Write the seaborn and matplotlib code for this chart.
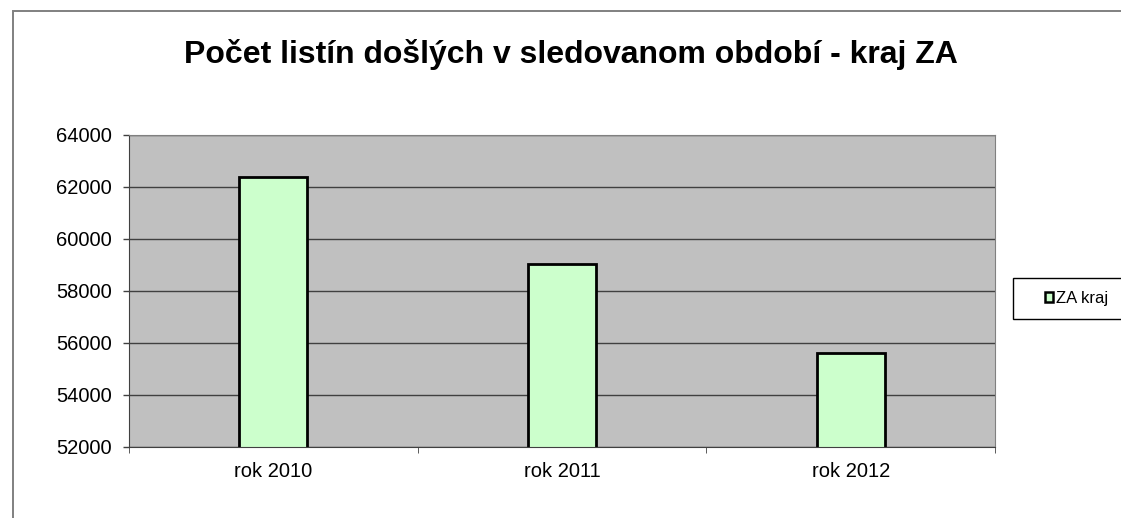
import matplotlib
matplotlib.use("Agg")
import matplotlib.pyplot as plt
from matplotlib.patches import Rectangle, Patch
import pandas as pd
import seaborn as sns

# Data
roky = ["rok 2010", "rok 2011", "rok 2012"]
pocet = [62390, 59040, 55610]
nazov_serie = "ZA kraj"
y_ticks = [52000, 54000, 56000, 58000, 60000, 62000, 64000]

df = pd.DataFrame({"rok": roky, "pocet": pocet})

sns.set_style("white")
plt.rcParams["font.family"] = ["Liberation Sans", "DejaVu Sans"]
plt.rcParams["text.color"] = "black"
plt.rcParams["xtick.color"] = "black"
plt.rcParams["ytick.color"] = "black"

W, H = 1121, 518
fig = plt.figure(figsize=(W / 100, H / 100), dpi=100)
ax = fig.add_axes([129 / W, 1 - 447 / H, (995 - 129) / W, (447 - 135) / H])

# outer chart frame
fig.patches.append(Rectangle((12.5 / W, -0.05), 1.1, 1 - 10.5 / H + 0.05,
                             transform=fig.transFigure, fill=False,
                             edgecolor="#808080", linewidth=1.4))

sns.barplot(data=df, x="rok", y="pocet", ax=ax, color="#ccffcc",
            edgecolor="black", linewidth=2, width=0.235, saturation=1)

ax.set_facecolor("#c0c0c0")
ax.set_ylim(52000, 64000)
ax.set_xlim(-0.5, 2.5)
ax.set_yticks(y_ticks)
ax.set_yticklabels([str(t) for t in y_ticks], fontsize=14.5)
ax.yaxis.grid(True, color="#404040", linewidth=1)
ax.set_axisbelow(True)
ax.tick_params(axis="x", labelsize=14.5, length=0, pad=11)
ax.tick_params(axis="y", left=True, length=4.5, width=1, color="#404040", pad=8)
ax.set_xticks([-0.5, 0.5, 1.5, 2.5], minor=True)
ax.tick_params(axis="x", which="minor", bottom=True, length=4.5, color="#404040")
ax.set_xlabel("")
ax.set_ylabel("")
for side in ["top", "right"]:
    ax.spines[side].set_color("#808080")
for side in ["left", "bottom"]:
    ax.spines[side].set_color("#404040")

fig.text(570.5 / W, 1 - 54 / H, "Počet listín došlých v sledovanom období - kraj ZA",
         ha="center", va="center", fontsize=23, fontweight="bold")

# legend box (runs off the right edge like the original)
fig.patches.append(Rectangle((1013 / W, 1 - 319 / H), 0.2, 41 / H,
                             transform=fig.transFigure, facecolor="white",
                             edgecolor="black", linewidth=1))
handle = Patch(facecolor="#ccffcc", edgecolor="black", linewidth=1.8)
leg = fig.legend([handle], [nazov_serie], loc="center left",
                 bbox_to_anchor=(1045 / W, 1 - 298.5 / H), fontsize=12,
                 handlelength=0.5, handleheight=0.5, handletextpad=0.15,
                 frameon=False, borderaxespad=0, borderpad=0)

fig.savefig("out.png", dpi=100)
